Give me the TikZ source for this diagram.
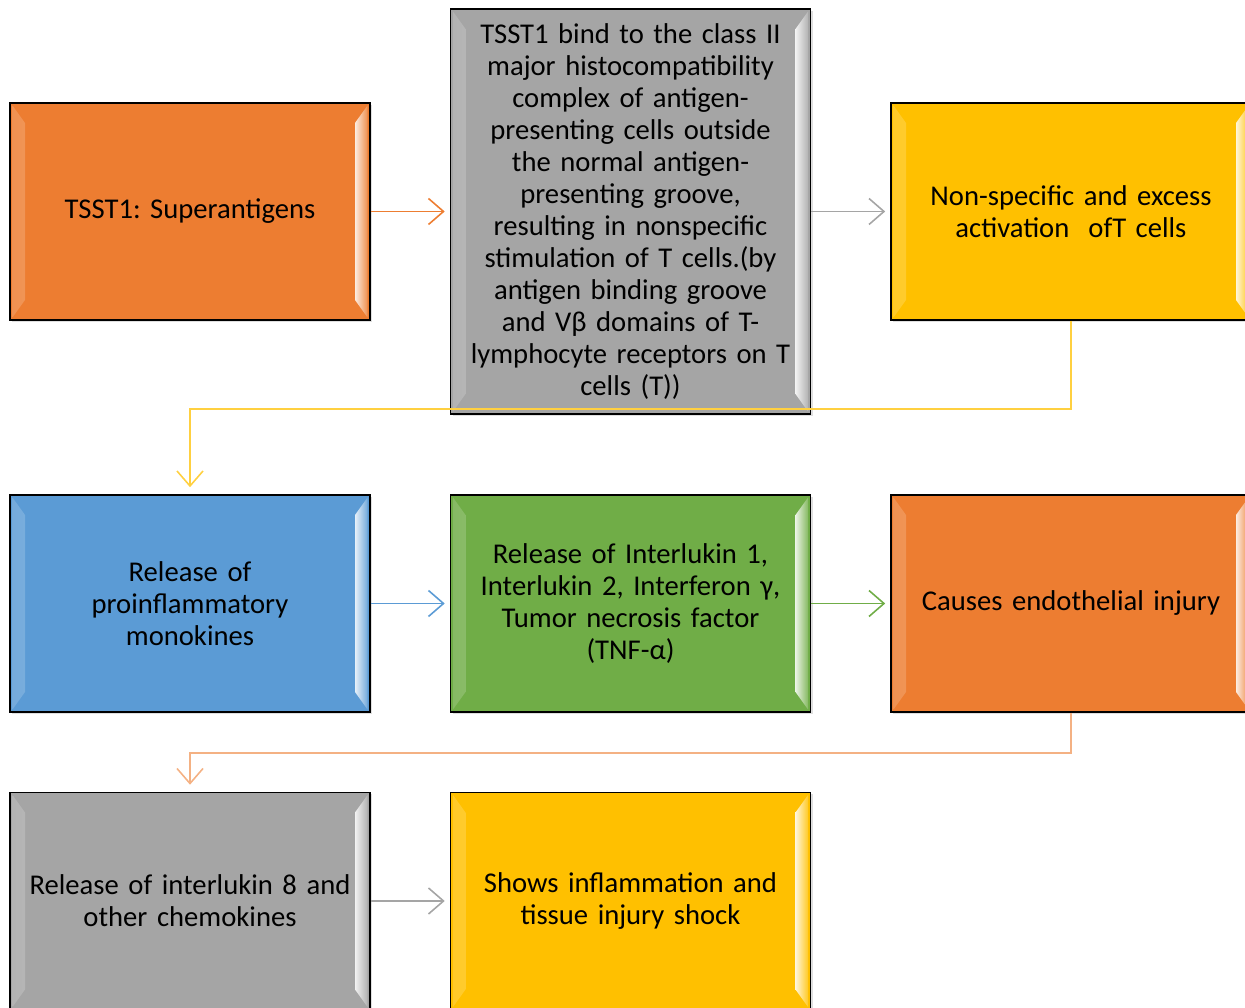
\documentclass[tikz,border=0pt]{standalone}
\usepackage{fontspec}
\setmainfont{Carlito}
\usepackage{tikz}
\usetikzlibrary{calc, arrows.meta, positioning, shadows}
\usepackage{xcolor}

\definecolor{tOrange}{HTML}{ED7D31}
\definecolor{tGray}{HTML}{A5A5A5}
\definecolor{tYellow}{HTML}{FFC000}
\definecolor{tBlue}{HTML}{5B9BD5}
\definecolor{tGreen}{HTML}{70AD47}

\tikzset{
  bevelbox/.style={draw=black, line width=0.9pt, fill=#1, minimum width=7.2cm,
    minimum height=4.34cm, text width=6.9cm, align=center, inner sep=0pt,
    font=\fontsize{16.3}{18.2}\selectfont\frenchspacing,
    drop shadow={opacity=0.25, shadow xshift=0.04cm, shadow yshift=-0.04cm},
    path picture={
      \fill[left color=#1!85!white, right color=#1!15!white]
        ($(path picture bounding box.north west)+(0.05,-0.05)$) --
        ($(path picture bounding box.north west)+(0.3,-0.4)$) --
        ($(path picture bounding box.south west)+(0.3,0.4)$) --
        ($(path picture bounding box.south west)+(0.05,0.05)$) -- cycle;
      \fill[right color=#1!85!white, left color=#1!15!white]
        ($(path picture bounding box.north east)+(-0.05,-0.05)$) --
        ($(path picture bounding box.north east)+(-0.3,-0.4)$) --
        ($(path picture bounding box.south east)+(-0.3,0.4)$) --
        ($(path picture bounding box.south east)+(-0.05,0.05)$) -- cycle;
    }},
  flowarrow/.style={draw=#1, line width=0.9pt,
    -{Straight Barb[length=0.3cm, width=0.52cm, line width=0.9pt]}}
}

\begin{document}
\begin{tikzpicture}
  \useasboundingbox (0,0) rectangle (24.9,-20.16);
  % first row
  \node[bevelbox=tOrange] (supag) at (3.8,-4.23) {TSST1: Superantigens};
  \node[bevelbox=tGray, minimum height=8.1cm] (bind) at (12.61,-4.23)
    {TSST1 bind to the class II\\ major histocompatibility\\ complex of antigen-\\
     presenting cells outside\\ the normal antigen-\\ presenting groove,\\
     resulting in nonspecific\\ stimulation of T cells.(by\\ antigen binding groove\\
     and Vβ domains of T-\\ lymphocyte receptors on T\\ cells (T))};
  \node[bevelbox=tYellow] (tact) at (21.42,-4.23) {Non-specific and excess\\ activation \ ofT cells};
  % second row
  \node[bevelbox=tBlue] (mono) at (3.8,-12.07) {Release of\\ proinflammatory\\ monokines};
  \node[bevelbox=tGreen] (cyto) at (12.61,-12.07)
    {Release of Interlukin 1,\\ Interlukin 2, Interferon γ,\\ Tumor necrosis factor\\ (TNF-α)};
  \node[bevelbox=tOrange] (endo) at (21.42,-12.07) {Causes endothelial injury};
  % third row
  \node[bevelbox=tGray] (chemo) at (3.8,-18.02) {Release of interlukin 8 and\\ other chemokines};
  \node[bevelbox=tYellow] (shock) at (12.61,-18.02) {Shows inflammation and\\ tissue injury shock};
  % connectors
  \draw[flowarrow=tOrange, shorten >=0.1cm] (supag) -- (bind);
  \draw[flowarrow=tGray, shorten >=0.1cm] (bind.east |- supag) -- (tact);
  \draw[flowarrow=tYellow!75!white, shorten >=0.14cm] (tact.south) -- ++(0,-1.76) -| (mono.north);
  \draw[flowarrow=tBlue, shorten >=0.1cm] (mono) -- (cyto);
  \draw[flowarrow=tGreen, shorten >=0.1cm] (cyto) -- (endo);
  \draw[flowarrow=tOrange!60!white, shorten >=0.14cm] (endo.south) -- ++(0,-0.8) -| (chemo.north);
  \draw[flowarrow=tGray, shorten >=0.1cm] (chemo) -- (shock);
\end{tikzpicture}
\end{document}
